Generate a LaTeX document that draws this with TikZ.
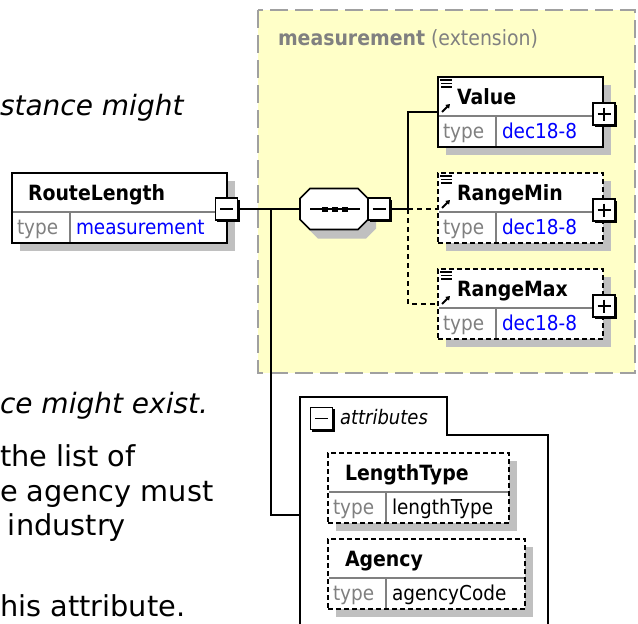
\documentclass[tikz,border=0pt]{standalone}
\usepackage{fontspec}
\setmainfont{DejaVu Sans}
\newfontfamily\df[FakeStretch=0.9]{DejaVu Sans}
\usetikzlibrary{arrows.meta}
\definecolor{ylw}{HTML}{FFFFC8}
\definecolor{ybord}{HTML}{A0A0A0}
\definecolor{shd}{HTML}{C0C0C0}
\definecolor{gtxt}{HTML}{808080}
\definecolor{btxt}{HTML}{0000FF}
\definecolor{divc}{HTML}{808080}
\tikzset{
  lbl/.style={inner sep=0, outer sep=0, anchor=base west},
  hdr/.style={lbl, font=\df\bfseries\fontsize{21}{21}\selectfont},
  typ/.style={lbl, font=\df\fontsize{20.5}{20.5}\selectfont},
  conn/.style={line width=1.6, black},
  optconn/.style={conn, dash pattern=on 5pt off 4pt},
  solidbox/.style={draw=black, line width=1.6},
  optbox/.style={draw=black, line width=1.6, dash pattern=on 5pt off 3pt},
  prose/.style={inner sep=0, outer sep=0, anchor=base west, font=\fontsize{28.8}{28.8}\selectfont},
  prosei/.style={inner sep=0, outer sep=0, anchor=base west, font=\itshape\fontsize{28}{28}\selectfont},
}
% element box: name, x, y, w, style, title, colour, type name, title offset
\newcommand{\elbox}[9]{%
  \fill[shd] (#2+8,#3+8) rectangle (#2+#4+8,#3+78);
  \node[#5, fill=white, minimum width=#4, minimum height=70, inner sep=0, outer sep=0, anchor=north west] (#1) at (#2,#3) {};
  \draw[divc, line width=1.2] (#2+1,#3+39) -- (#2+#4-1,#3+39);
  \draw[divc, line width=1.2] (#2+58,#3+39) -- (#2+58,#3+69);
  \node[hdr] (#1-h) at (#2+#9,#3+27.5) {#6};
  \node[typ, text=gtxt] (#1-k) at (#2+5,#3+61.5) {type};
  \node[typ, text=#7] (#1-v) at (#2+64,#3+61.5) {#8};
}
% reference icons: x, y of box top-left
\newcommand{\refic}[2]{%
  \draw[line width=1.1] (#1+2,#2+3) -- (#1+14,#2+3) (#1+3,#2+6.5) -- (#1+14,#2+6.5) (#1+3,#2+10) -- (#1+14,#2+10);
  \draw[line width=1.8, -{Triangle[length=4pt,width=5pt]}] (#1+4,#2+35) -- (#1+12,#2+27);
}
% plus / minus box: name, cx, cy, 1 = plus
\newcommand{\pmbx}[4]{%
  \fill[black] (#2-9.5,#3-9.5) rectangle (#2+13,#3+13);
  \node[draw=black, fill=white, line width=1.8, minimum size=22, inner sep=0, outer sep=0] (#1) at (#2,#3) {};
  \draw[line width=1.6] (#2-6.5,#3) -- (#2+6.5,#3);
  \ifnum#4=1 \draw[line width=1.6] (#2,#3-6.5) -- (#2,#3+6.5);\fi
}
\begin{document}
\begin{tikzpicture}[x=1pt, y=-1pt]
\useasboundingbox (0,0) rectangle (638,624);
\clip (0,0) rectangle (638,624);

% prose behind
\node[prosei] (p1) at (0,115) {stance might};
\node[prosei] (p2) at (0,413) {ce might exist.};
\node[prose] (p3) at (0,466) {the list of};
\node[prose] (p4) at (0,501) {e agency must};
\node[prose] (p5) at (8,535) {industry};
\node[prose, text depth=0pt] (p6) at (0,616) {his attribute.};

% extension box
\fill[ylw] (258,10) rectangle (635,373);
\draw[ybord, line width=2, dash pattern=on 18pt off 7pt] (258,10) rectangle (635,373);
\node[lbl, text=gtxt, font=\df\fontsize{21}{21}\selectfont] (ext) at (278,45) {{\bfseries measurement} (extension)};

% sequence compositor
\fill[shd] (318,197.5) -- (366,197.5) -- (376,207.5) -- (376,228.5) -- (366,238.5) -- (318,238.5) -- (308,228.5) -- (308,207.5) -- cycle;
\draw[line width=1.6, fill=white] (310,188.5) -- (358,188.5) -- (368,198.5) -- (368,219.5) -- (358,229.5) -- (310,229.5) -- (300,219.5) -- (300,198.5) -- cycle;
\node[minimum width=68, minimum height=41, inner sep=0, outer sep=0] (seq) at (334,209) {};
\draw[line width=1.6] (310,209) -- (360,209);
\fill (322,206.5) rectangle (328,211.5);
\fill (332,206.5) rectangle (338,211.5);
\fill (342,206.5) rectangle (348,211.5);

% elements
\elbox{rl}{12}{173}{215}{solidbox}{RouteLength}{btxt}{measurement}{16}
\elbox{val}{438}{77}{165}{solidbox}{Value}{btxt}{dec18-8}{19}
\elbox{rmin}{438}{173}{165}{optbox}{RangeMin}{btxt}{dec18-8}{19}
\elbox{rmax}{438}{269}{165}{optbox}{RangeMax}{btxt}{dec18-8}{19}
\refic{438}{77}
\refic{438}{173}
\refic{438}{269}

% attributes group
\draw[line width=1.6] (300,640) -- (300,397) -- (447,397) -- (447,435) -- (548,435) -- (548,640);
\node[lbl, font=\df\itshape\fontsize{20}{20}\selectfont] (attl) at (340,424) {attributes};
\elbox{lt}{328}{453}{181}{optbox}{LengthType}{black}{lengthType}{17}
\elbox{ag}{328}{539}{197}{optbox}{Agency}{black}{agencyCode}{17}

% expand / collapse boxes
\pmbx{rlm}{226.5}{209}{0}
\pmbx{sqm}{379}{209}{0}
\pmbx{valp}{604}{114}{1}
\pmbx{rminp}{604}{210}{1}
\pmbx{rmaxp}{604}{306}{1}
\pmbx{atm}{321.5}{418.5}{0}

% connectors
\coordinate (j1) at (271,209);
\coordinate (j2) at (408,209);
\coordinate (attrin) at (300,515);
\draw[conn] (rlm.east) -- (seq.west);
\draw[conn] (j1) |- (attrin);
\draw[conn] (sqm.east) -- (j2) |- (val.west);
\draw[optconn] (j2) -- (j2 -| rmin.west);
\draw[optconn] (j2) |- (rmax.west);
\end{tikzpicture}
\end{document}
